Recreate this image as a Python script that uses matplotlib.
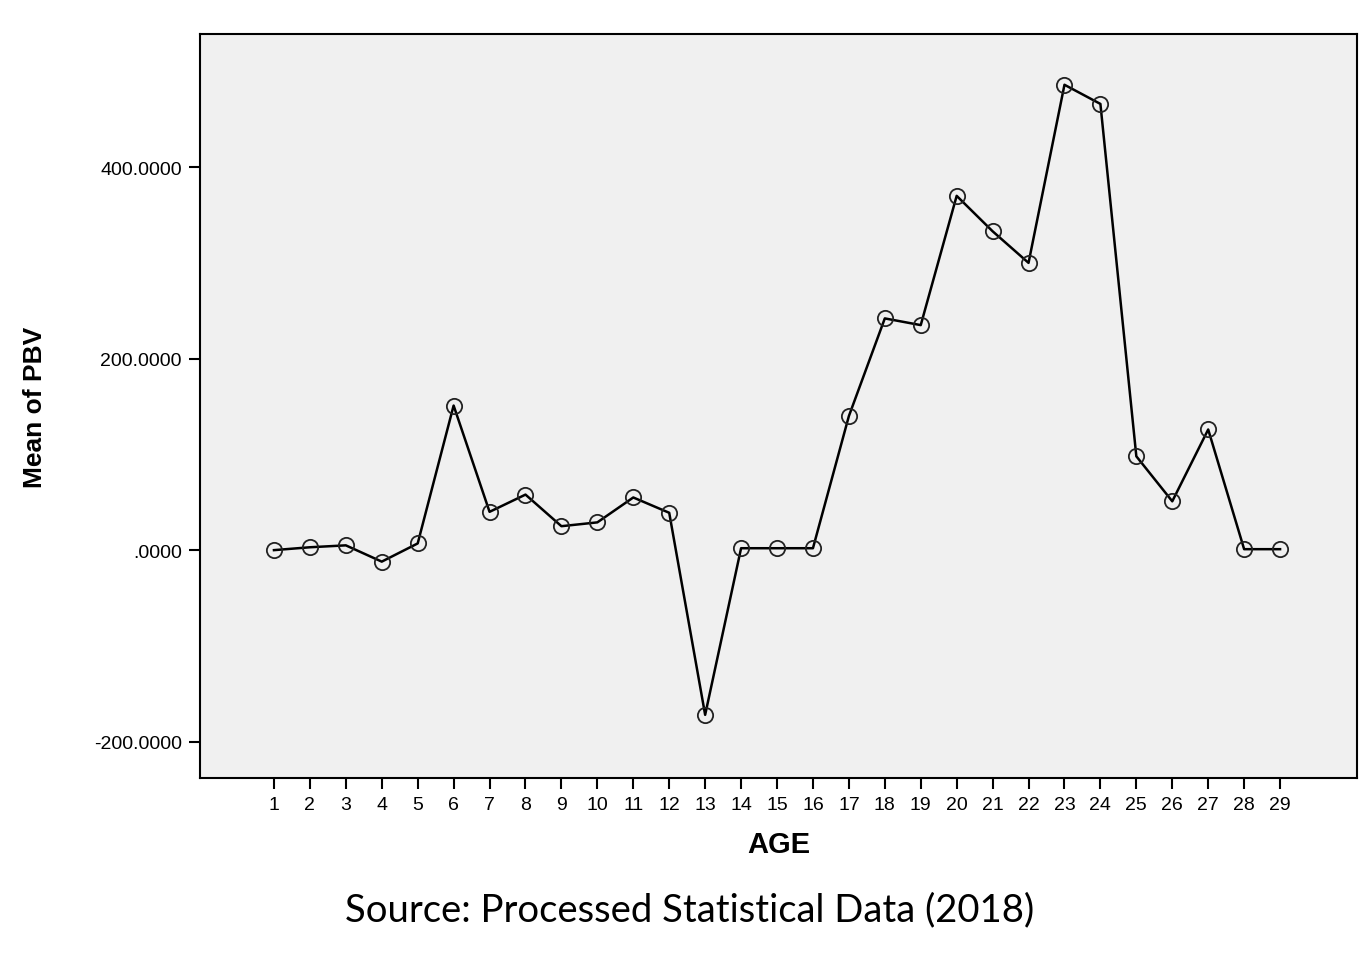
import numpy as np
from matplotlib import pyplot as plt

age = np.arange(1, 30)
mean_pbv = [0, 3, 5, -12, 7, 151, 40, 58, 25, 29, 55, 39, -172, 2, 2, 2,
            140, 242, 235, 370, 333, 300, 486, 466, 98, 51, 126, 1, 1]
yticks = [-200, 0, 200, 400]
ytick_labels = ['-200.0000', '.0000', '200.0000', '400.0000']

plt.rcParams['font.family'] = ['Liberation Sans', 'DejaVu Sans']

fig = plt.figure(figsize=(13.62, 9.54), dpi=100)
ax = fig.add_axes([0.1468, 0.1834, 0.8495, 0.7799])
ax.set_facecolor('#f0f0f0')

ax.plot(age, mean_pbv, color='black', linewidth=1.8, marker='o',
        markersize=11, fillstyle='none', markeredgewidth=1.3,
        markeredgecolor='#222222')

ax.set_xlim(-1.06, 31.14)
ax.set_ylim(-238, 539)
ax.set_xticks(age)
ax.set_xticklabels([str(a) for a in age])
ax.set_yticks(yticks)
ax.set_yticklabels(ytick_labels)
ax.tick_params(direction='out', length=8, width=1.5, labelsize=14,
               colors='black', pad=5)
for s in ax.spines.values():
    s.set_linewidth(1.5)

ax.set_xlabel('AGE', fontsize=21, fontweight='bold', labelpad=12)
ax.set_ylabel('Mean of PBV', fontsize=19, fontweight='bold', labelpad=34,
              family=['Liberation Sans Narrow', 'Liberation Sans'])

fig.text(0.506, 0.046, 'Source: Processed Statistical Data (2018)',
         ha='center', va='center', fontsize=27.5,
         family=['Lato', 'DejaVu Sans'])

fig.savefig('out.png', dpi=100)
